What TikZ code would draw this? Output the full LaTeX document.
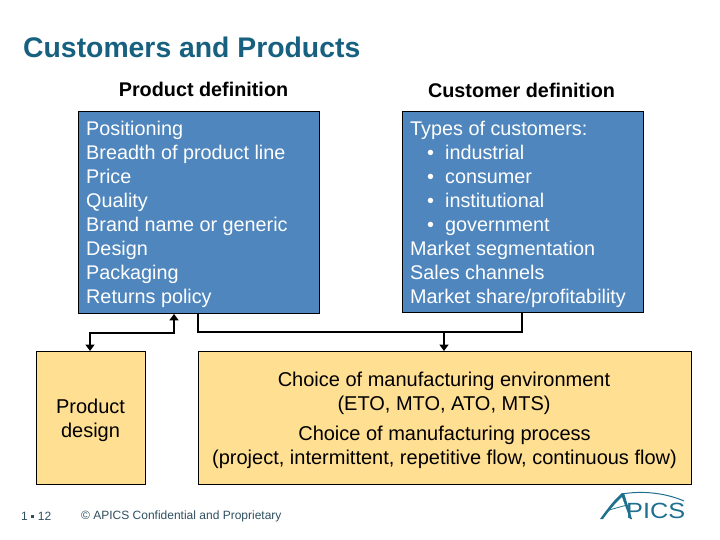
\documentclass[tikz,border=0pt]{standalone}
\usepackage{fontspec}
\setmainfont{Liberation Sans}
\usetikzlibrary{arrows.meta,calc}
\definecolor{bluefill}{HTML}{4F86BD}
\definecolor{yellowfill}{HTML}{FFDF92}
\definecolor{titleblue}{HTML}{17607F}
\definecolor{logoblue}{HTML}{1F6F8F}
\definecolor{foot}{HTML}{2F4F5F}
\tikzset{
  bluebox/.style={draw=black,line width=0.9pt,fill=bluefill,inner sep=0pt,anchor=north west},
  yellowbox/.style={draw=black,line width=0.9pt,fill=yellowfill,inner sep=0pt,anchor=north west},
  bluetext/.style={text=white,anchor=north west,align=left,inner sep=0pt,font=\fontsize{19.8}{24}\selectfont},
  headtext/.style={text=black,inner sep=0pt,font=\bfseries\fontsize{19.8}{24}\selectfont},
  bodytext/.style={text=black,inner sep=0pt,align=center,font=\fontsize{20}{24}\selectfont},
  conn/.style={draw=black,line width=2.2pt},
  connarrow/.style={conn,-{Triangle[length=6.5pt,width=9pt]}},
  connboth/.style={conn,{Triangle[length=6.5pt,width=9pt]}-{Triangle[length=6.5pt,width=9pt]}},
}
\begin{document}
\begin{tikzpicture}[x=1pt,y=-1pt]
\useasboundingbox (0,0) rectangle (720,540);
\node[text=titleblue,anchor=west,inner sep=0pt,font=\bfseries\fontsize{28.35}{30}\selectfont] (title) at (23,47) {Customers and Products};
\node[headtext] (h1) at (203.5,89) {Product definition};
\node[headtext] (h2) at (521.5,90) {Customer definition};

\node[bluebox,minimum width=240.5pt,minimum height=202pt] (b1) at (78,111) {};
\node[bluebox,minimum width=240.5pt,minimum height=201pt] (b2) at (402,111) {};
\node[bluetext] (t1) at (86,120.5) {Positioning\\Breadth of product line\\Price\\Quality\\Brand name or generic\\Design\\Packaging\\Returns policy};
\node[bluetext] (t2) at (410,120.5) {Types of customers:\\
\hspace*{17pt}•\hspace{11pt}industrial\\
\hspace*{17pt}•\hspace{11pt}consumer\\
\hspace*{17pt}•\hspace{11pt}institutional\\
\hspace*{17pt}•\hspace{11pt}government\\
Market segmentation\\Sales channels\\Market share/profitability};

\node[yellowbox,minimum width=108.5pt,minimum height=133pt] (y1) at (36,351) {};
\node[bodytext] (yt1) at (90.5,420) {Product\\design};
\node[yellowbox,minimum width=492.5pt,minimum height=133pt] (y2) at (198,351) {};
\node[bodytext] (yt2) at (444,393) {Choice of manufacturing environment\\(ETO, MTO, ATO, MTS)};
\node[bodytext] (yt3) at (444.5,447) {Choice of manufacturing process\\(project, intermittent, repetitive flow, continuous flow)};

\draw[connboth] ($(b1.south west)+(96,0)$) -- ++(0,19) -| ($(y1.north west)+(54,0)$);
\draw[conn] ($(b1.south west)+(120,0)$) |- ($(y2.north west)+(246,-19)$);
\draw[connarrow] ($(b2.south west)+(120,0)$) -- ++(0,19) -| ($(y2.north west)+(246,0)$);

\node[text=foot,anchor=west,inner sep=0pt,font=\fontsize{12}{14}\selectfont] (pg) at (21,516) {1\hspace{3.5pt}\raisebox{2pt}{\rule{3pt}{3pt}}\hspace{3.5pt}12};
\node[text=foot,anchor=west,inner sep=0pt,font=\fontsize{12}{14}\selectfont] (cp) at (81,516) {© APICS Confidential and Proprietary};

% logo
\node[text=logoblue,anchor=west,inner sep=0pt,font=\fontsize{22}{24}\selectfont,xscale=1.15] (logo) at (626,510.5) {PICS};
\fill[logoblue] (600,519) .. controls (608,508) and (614,500) .. (622,493) -- (624,493) -- (632,519) -- (630,519) -- (622,497) .. controls (615,503) and (609,511) .. (603,519) -- cycle;
\draw[logoblue,line width=0.8pt] (609,510) -- (627,505);
\draw[logoblue,line width=1pt] (622,494) .. controls (645,490) and (668,494) .. (684,501);
\end{tikzpicture}
\end{document}
